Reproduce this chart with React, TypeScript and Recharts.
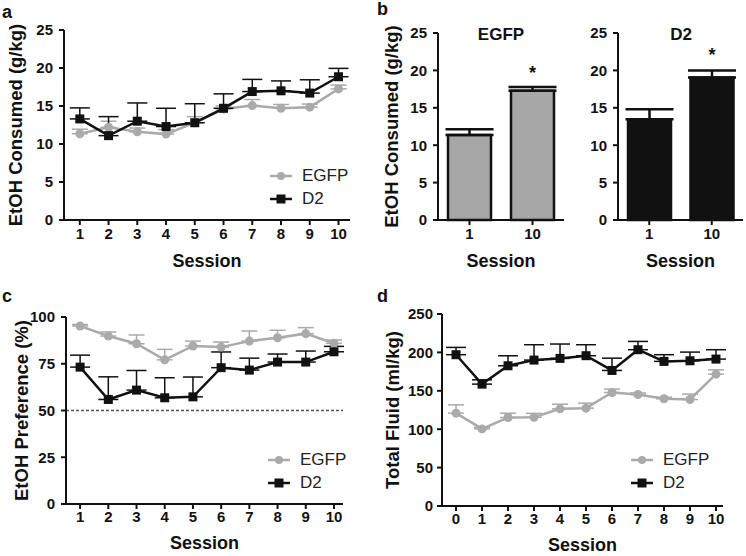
import React from "react";
import {
  LineChart,
  BarChart,
  Line,
  Bar,
  XAxis,
  YAxis,
  ErrorBar,
  ReferenceLine,
  Legend,
  LabelList,
} from "recharts";

const FONT = "'Liberation Sans', Arial, Helvetica, sans-serif";
const GRAY = "#aaaaaa";
const BAR_GRAY = "#a6a6a6";
const BLACK = "#111111";

// panel a: EtOH consumed over sessions
const sessionsA = [1, 2, 3, 4, 5, 6, 7, 8, 9, 10];
const egfpA = [11.35, 12.2, 11.6, 11.3, 12.8, 14.6, 15.05, 14.7, 14.85, 17.25];
const egfpAErr = [0.6, 0.8, 0.5, 0.6, 0.8, 0.4, 0.8, 0.5, 0.4, 0.5];
const d2A = [13.3, 11.1, 13.0, 12.3, 12.8, 14.7, 16.9, 17.0, 16.7, 18.85];
const d2AErr = [1.45, 2.5, 2.4, 2.4, 2.5, 1.9, 1.6, 1.3, 1.75, 1.1];
const ticksA = [0, 5, 10, 15, 20, 25];

// panel b: session 1 vs 10
const sessionsB = ["1", "10"];
const egfpB = [11.38, 17.27];
const egfpBErr = [0.76, 0.5];
const d2B = [13.48, 19.06];
const d2BErr = [1.34, 0.93];
const starsB = ["", "*"];

// panel c: preference
const sessionsC = [1, 2, 3, 4, 5, 6, 7, 8, 9, 10];
const egfpC = [95.2, 89.8, 85.7, 77.1, 84.5, 83.9, 87.1, 88.9, 91.1, 85.9];
const egfpCErr = [0.8, 2.2, 4.7, 5.6, 2.6, 2.7, 5.4, 4.0, 3.2, 1.8];
const d2C = [73.2, 55.9, 60.9, 56.8, 57.3, 72.9, 71.6, 75.9, 75.9, 81.4];
const d2CErr = [6.4, 12.1, 10.5, 10.7, 10.6, 8.4, 6.4, 4.3, 5.9, 2.9];
const ticksC = [0, 25, 50, 75, 100];

// panel d: total fluid
const sessionsD = [0, 1, 2, 3, 4, 5, 6, 7, 8, 9, 10];
const egfpD = [120.9, 100.4, 115.2, 115.6, 126.5, 127.4, 147.8, 145.2, 139.6, 138.7, 171.7];
const egfpDErr = [10.8, 2, 5.6, 5, 6, 6.5, 4.3, 2, 2, 7, 5.6];
const d2D = [197, 158.7, 182.6, 190, 192.2, 195.7, 176.5, 203.5, 188.3, 189.1, 191.3];
const d2DErr = [9.5, 5.6, 13, 20, 18.7, 14.3, 16, 10.8, 8.7, 11.3, 12.2];
const ticksD = [0, 50, 100, 150, 200, 250];

const seriesOrder = ["EGFP", "D2"];

const buildRows = (
  sessions: number[],
  egfp: number[],
  egfpErr: number[],
  d2: number[],
  d2Err: number[]
) =>
  sessions.map((s, i) => ({
    session: s,
    egfp: egfp[i],
    egfpErr: [0, egfpErr[i]],
    d2: d2[i],
    d2Err: [0, d2Err[i]],
  }));

const tickStyle = { fontSize: 15, fontWeight: 700, fill: BLACK, fontFamily: FONT };
const titleStyle = { fontSize: 18, fontWeight: 700, fill: BLACK, fontFamily: FONT };
const yTitleStyle = { fontSize: 18.5, fontWeight: 700, fill: BLACK, fontFamily: FONT, textAnchor: "middle" };
const axisStroke = { stroke: BLACK, strokeWidth: 2 };

const circleDot = (p: any) =>
  p.cx == null ? (
    <g key={`c-${p.index}`} />
  ) : (
    <circle key={`c-${p.index}`} cx={p.cx} cy={p.cy} r={4.5} fill={GRAY} />
  );

const squareDot = (p: any) =>
  p.cx == null ? (
    <g key={`s-${p.index}`} />
  ) : (
    <rect key={`s-${p.index}`} x={p.cx - 4.5} y={p.cy - 4.5} width={9} height={9} fill={BLACK} />
  );

const legendContent = (props: any) => {
  const items = [...(props.payload || [])].sort(
    (a: any, b: any) => seriesOrder.indexOf(a.value) - seriesOrder.indexOf(b.value)
  );
  return (
    <div style={{ fontFamily: FONT, fontSize: 17, color: "#222" }}>
      {items.map((entry: any) => (
        <div key={entry.value} style={{ display: "flex", alignItems: "center", height: 23 }}>
          <svg width={22} height={12}>
            <line x1={0} x2={22} y1={6} y2={6} stroke={entry.color} strokeWidth={2.5} />
            {entry.value === "EGFP" ? (
              <circle cx={11} cy={6} r={4} fill={entry.color} />
            ) : (
              <rect x={6.5} y={1.5} width={9} height={9} fill={entry.color} />
            )}
          </svg>
          <span style={{ marginLeft: 10 }}>{entry.value}</span>
        </div>
      ))}
    </div>
  );
};

interface LinePanelProps {
  left: number;
  top: number;
  rows: any[];
  xDomain: [number, number];
  xTicks: number[];
  yDomain: [number, number];
  yTicks: number[];
  yLabel: string;
  marginTop: number;
  marginRight: number;
  yWidth: number;
  xHeight: number;
  xTickMargin: number;
  yTickMargin: number;
  labelOffset: number;
  yLabelX: number;
  yLabelShift: number;
  legendLeft: number;
  legendTop: number;
  dashed?: number;
}

function LinePanel(p: LinePanelProps) {
  return (
    <div style={{ position: "absolute", left: p.left, top: p.top }}>
      <LineChart
        width={373}
        height={278}
        data={p.rows}
        margin={{ top: p.marginTop, right: p.marginRight, bottom: 0, left: 0 }}
      >
        <XAxis
          type="number"
          dataKey="session"
          domain={p.xDomain}
          ticks={p.xTicks}
          interval={0}
          allowDataOverflow
          height={p.xHeight}
          tick={tickStyle}
          tickSize={5}
          tickMargin={p.xTickMargin}
          axisLine={axisStroke}
          tickLine={axisStroke}
          label={{ value: "Session", position: "insideBottom", offset: p.labelOffset, style: titleStyle }}
        />
        <YAxis
          type="number"
          domain={p.yDomain}
          ticks={p.yTicks}
          interval={0}
          width={p.yWidth}
          tick={tickStyle}
          tickSize={5}
          tickMargin={p.yTickMargin}
          axisLine={axisStroke}
          tickLine={axisStroke}
          label={{
            value: p.yLabel,
            angle: -90,
            position: "insideLeft",
            offset: p.yLabelX,
            dx: p.yLabelShift,
            style: yTitleStyle,
          }}
        />
        {p.dashed !== undefined && (
          <ReferenceLine y={p.dashed} stroke="#555" strokeWidth={1.5} strokeDasharray="3 2" />
        )}
        <Legend
          layout="vertical"
          align="center"
          verticalAlign="middle"
          content={legendContent}
          wrapperStyle={{ left: p.legendLeft, top: p.legendTop, width: "auto" }}
        />
        <Line
          type="linear"
          dataKey="egfp"
          name="EGFP"
          stroke={GRAY}
          strokeWidth={2.5}
          dot={circleDot}
          activeDot={false}
          isAnimationActive={false}
        >
          <ErrorBar dataKey="egfpErr" direction="y" width={8} stroke={GRAY} strokeWidth={1.5} />
        </Line>
        <Line
          type="linear"
          dataKey="d2"
          name="D2"
          stroke={BLACK}
          strokeWidth={2.5}
          dot={squareDot}
          activeDot={false}
          isAnimationActive={false}
        >
          <ErrorBar dataKey="d2Err" direction="y" width={10} stroke={BLACK} strokeWidth={1.5} />
        </Line>
      </LineChart>
    </div>
  );
}

interface BarPanelProps {
  left: number;
  width: number;
  yWidth: number;
  marginRight: number;
  values: number[];
  errs: number[];
  fill: string;
  starOffset: number;
  yLabel?: string;
}

function BarPanel(p: BarPanelProps) {
  const rows = sessionsB.map((s, i) => ({
    session: s,
    value: p.values[i],
    err: [0, p.errs[i]],
    star: starsB[i],
  }));
  return (
    <div style={{ position: "absolute", left: p.left, top: 0 }}>
      <BarChart
        width={p.width}
        height={278}
        data={rows}
        margin={{ top: 33, right: p.marginRight, bottom: 0, left: 0 }}
      >
        <XAxis
          dataKey="session"
          height={58}
          tick={tickStyle}
          tickSize={5}
          tickMargin={3}
          axisLine={axisStroke}
          tickLine={axisStroke}
          label={{ value: "Session", position: "insideBottom", offset: 11, style: titleStyle }}
        />
        <YAxis
          type="number"
          domain={[0, 25]}
          ticks={ticksA}
          interval={0}
          width={p.yWidth}
          tick={tickStyle}
          tickSize={5}
          tickMargin={6}
          axisLine={axisStroke}
          tickLine={axisStroke}
          label={
            p.yLabel
              ? {
                  value: p.yLabel,
                  angle: -90,
                  position: "insideLeft",
                  offset: 13,
                  dx: 5,
                  style: yTitleStyle,
                }
              : undefined
          }
        />
        <Bar
          dataKey="value"
          fill={p.fill}
          stroke={BLACK}
          strokeWidth={2.5}
          barSize={43}
          isAnimationActive={false}
        >
          <ErrorBar dataKey="err" direction="y" width={24} stroke={BLACK} strokeWidth={2.5} />
          <LabelList
            dataKey="star"
            position="top"
            offset={p.starOffset}
            style={{ fontSize: 18, fontWeight: 700, fill: BLACK, fontFamily: FONT }}
          />
        </Bar>
      </BarChart>
    </div>
  );
}

const letterStyle: React.CSSProperties = {
  position: "absolute",
  fontSize: 18,
  fontWeight: 700,
  lineHeight: "18px",
  color: BLACK,
  fontFamily: FONT,
};

const subTitleStyle: React.CSSProperties = {
  position: "absolute",
  width: 120,
  textAlign: "center",
  fontSize: 17,
  fontWeight: 700,
  lineHeight: "17px",
  color: BLACK,
  fontFamily: FONT,
};

export default function App() {
  const rowsA = buildRows(sessionsA, egfpA, egfpAErr, d2A, d2AErr);
  const rowsC = buildRows(sessionsC, egfpC, egfpCErr, d2C, d2CErr);
  const rowsD = buildRows(sessionsD, egfpD, egfpDErr, d2D, d2DErr);

  return (
    <div
      style={{
        position: "absolute",
        left: 0,
        top: 0,
        width: 746,
        height: 556,
        background: "#ffffff",
        fontFamily: FONT,
      }}
    >
      <LinePanel
        left={0}
        top={0}
        rows={rowsA}
        xDomain={[0.45, 10.4]}
        xTicks={sessionsA}
        yDomain={[0, 25]}
        yTicks={ticksA}
        yLabel="EtOH Consumed (g/kg)"
        marginTop={30}
        marginRight={23}
        yWidth={64}
        xHeight={58}
        xTickMargin={3}
        yTickMargin={6}
        labelOffset={11}
        yLabelX={12}
        yLabelShift={3}
        legendLeft={270}
        legendTop={164}
      />

      <BarPanel
        left={373}
        width={193}
        yWidth={65}
        marginRight={2}
        values={egfpB}
        errs={egfpBErr}
        fill={BAR_GRAY}
        starOffset={12}
        yLabel="EtOH Consumed (g/kg)"
      />
      <BarPanel
        left={566}
        width={180}
        yWidth={52}
        marginRight={3}
        values={d2B}
        errs={d2BErr}
        fill={BLACK}
        starOffset={16}
      />

      <LinePanel
        left={0}
        top={278}
        rows={rowsC}
        xDomain={[0.5, 10.32]}
        xTicks={sessionsC}
        yDomain={[0, 100]}
        yTicks={ticksC}
        yLabel="EtOH Preference (%)"
        marginTop={39}
        marginRight={30}
        yWidth={66}
        xHeight={52}
        xTickMargin={2}
        yTickMargin={6}
        labelOffset={7}
        yLabelX={13}
        yLabelShift={8}
        legendLeft={268}
        legendTop={170}
        dashed={50}
      />

      <LinePanel
        left={373}
        top={278}
        rows={rowsD}
        xDomain={[-0.54, 10.27]}
        xTicks={sessionsD}
        yDomain={[0, 250]}
        yTicks={ticksD}
        yLabel="Total Fluid (ml/kg)"
        marginTop={36}
        marginRight={23}
        yWidth={69}
        xHeight={50}
        xTickMargin={2.5}
        yTickMargin={4}
        labelOffset={5}
        yLabelX={14}
        yLabelShift={5}
        legendLeft={258}
        legendTop={170}
      />

      <div style={{ ...letterStyle, left: 2, top: 3 }}>a</div>
      <div style={{ ...letterStyle, left: 377, top: 0 }}>b</div>
      <div style={{ ...letterStyle, left: 2, top: 287 }}>c</div>
      <div style={{ ...letterStyle, left: 377, top: 287 }}>d</div>

      <div style={{ ...subTitleStyle, left: 441, top: 26 }}>EGFP</div>
      <div style={{ ...subTitleStyle, left: 621, top: 26 }}>D2</div>
    </div>
  );
}
